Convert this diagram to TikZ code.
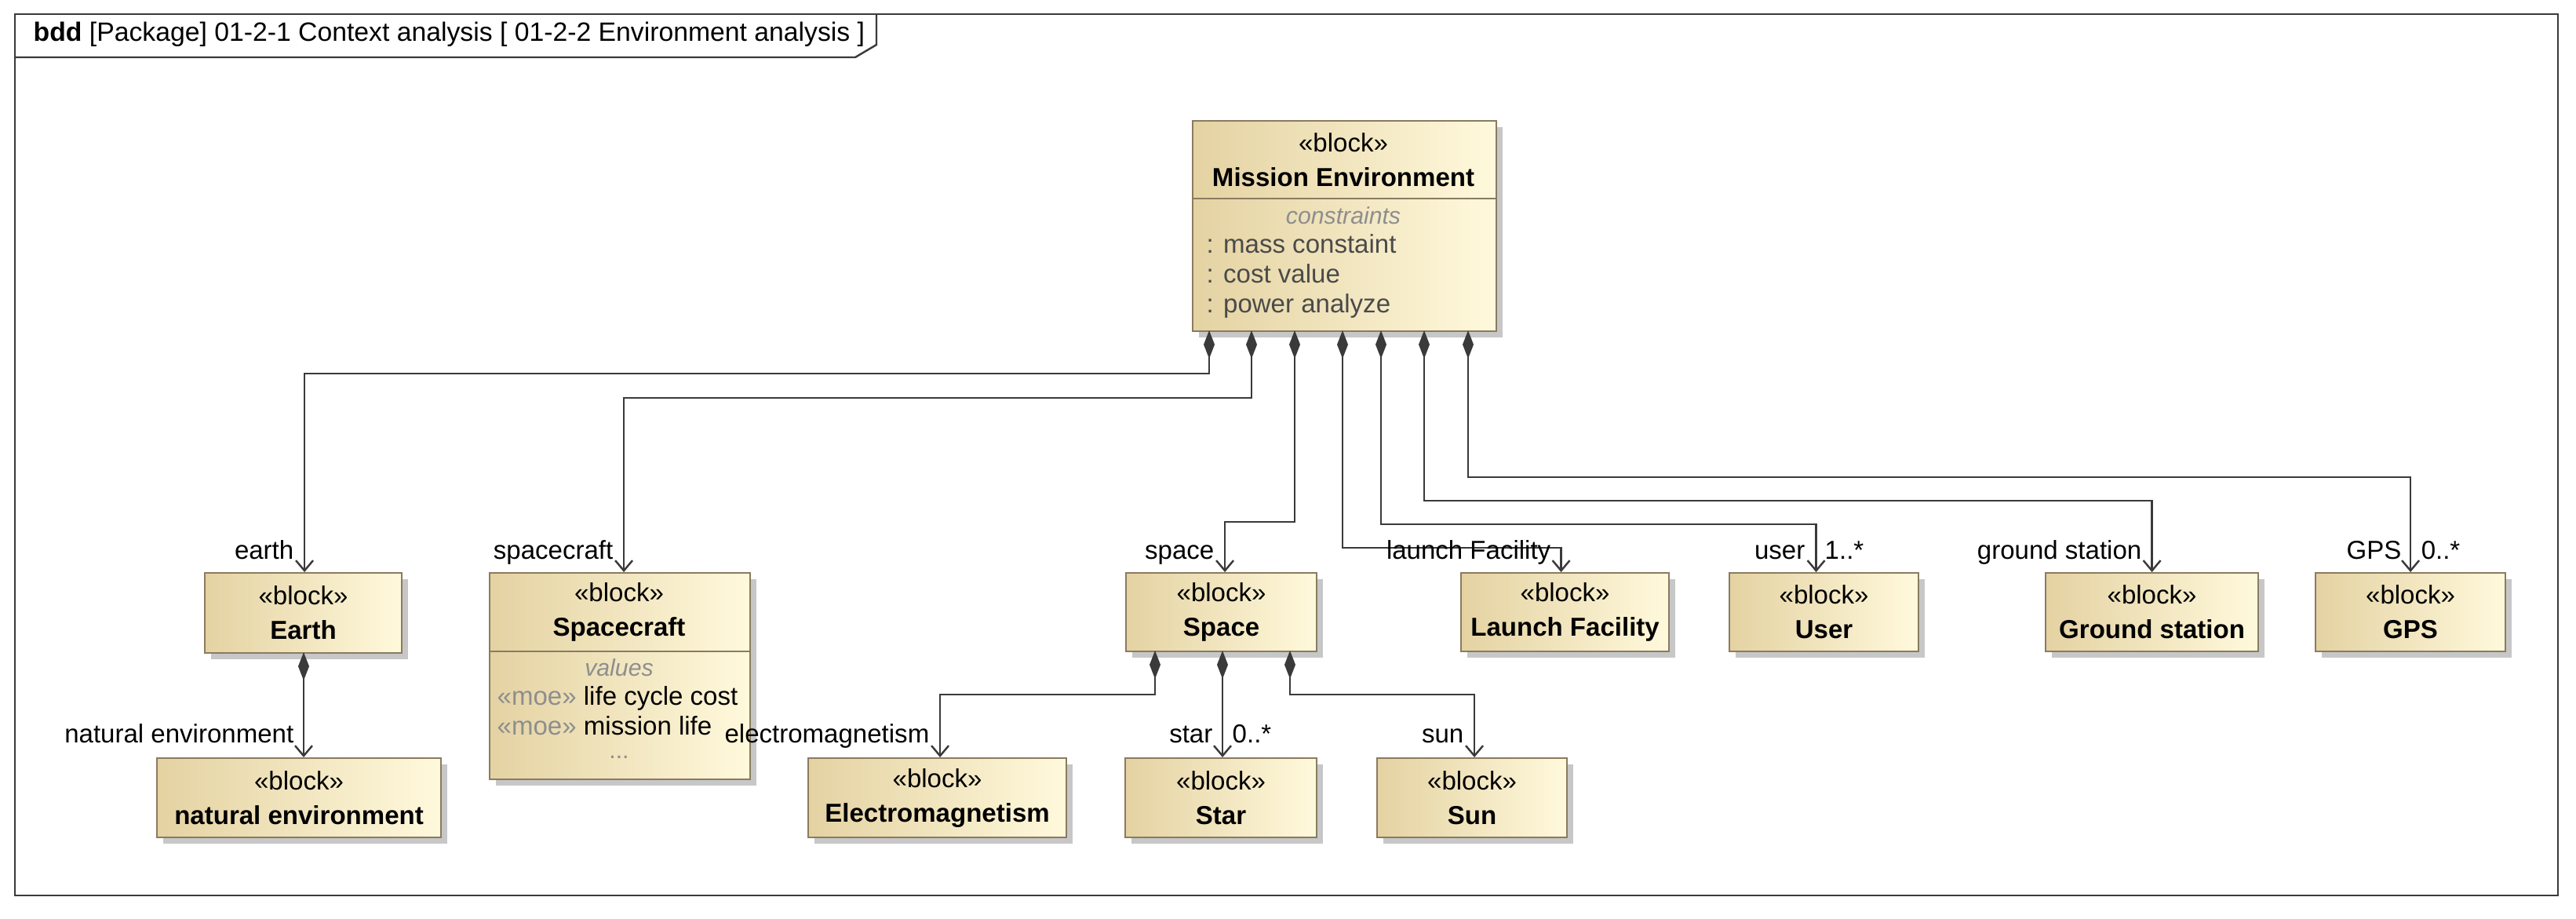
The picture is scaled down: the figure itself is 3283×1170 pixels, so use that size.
\documentclass[tikz,border=0pt]{standalone}
\usepackage{fontspec}
\setmainfont{Liberation Sans}
\usetikzlibrary{arrows.meta,shadows}
\definecolor{blkA}{HTML}{E4D2A2}
\definecolor{blkB}{HTML}{FFF9DC}
\definecolor{bord}{HTML}{8A7B60}
\definecolor{lc}{HTML}{3A3A3A}
\definecolor{gtxt}{HTML}{8E8E8E}
\definecolor{dtxt}{HTML}{4A4A4A}
\begin{document}
\begin{tikzpicture}[x=0.1mm,y=-0.1mm,
  font=\fontsize{9.4}{12.5}\selectfont,
  block/.style={draw=bord, line width=0.6pt, left color=blkA, right color=blkB,
    drop shadow={shadow xshift=0.8mm, shadow yshift=-0.8mm, fill=black!22, opacity=1},
    anchor=north west, inner sep=0pt, align=center},
  comp/.style={draw=lc, line width=0.7pt,
    {Diamond[length=3.6mm,width=1.4mm]}-{Straight Barb[length=1.3mm,width=2.2mm]}},
  role/.style={anchor=base east, inner sep=0pt},
  mult/.style={anchor=base west, inner sep=0pt},
  cmp/.style={anchor=base west, inner sep=0pt, text=dtxt, font=\fontsize{9.4}{10.8}\selectfont},
  ctitle/.style={anchor=base, inner sep=0pt, text=gtxt, font=\fontsize{8.6}{10}\selectfont\itshape}]
\useasboundingbox (0,0) rectangle (3283,1170);
% frame
\draw[draw=lc, line width=0.7pt] (19,18) rectangle (3260,1141);
\draw[draw=lc, line width=0.7pt] (19,73) -- (1090,73) -- (1117,57) -- (1117,18);
\node[anchor=base west, inner sep=0pt, font=\fontsize{9.6}{11}\selectfont] (title) at (42,52) {\textbf{bdd} [Package] 01-2-1 Context analysis [ 01-2-2 Environment analysis ]};

% Mission Environment
\node[block, minimum width=38.7mm, minimum height=26.8mm] (me) at (1519,153) {};
\draw[draw=bord, line width=0.6pt] (1519,253) -- (1906,253);
\node[anchor=center, align=center, inner sep=0pt] (metxt) at (1712,204) {«block»\\\textbf{Mission Environment}};
\node[ctitle] (mec) at (1712,285) {constraints};
\node[cmp] (me1) at (1537,322) {: mass constaint};
\node[cmp] (me2) at (1537,360) {: cost value};
\node[cmp] (me3) at (1537,398) {: power analyze};

% Spacecraft
\node[block, minimum width=33.2mm, minimum height=26.3mm] (sc) at (623,729) {};
\draw[draw=bord, line width=0.6pt] (623,830) -- (955,830);
\node[anchor=center, align=center, inner sep=0pt] (sctxt) at (789,780) {«block»\\\textbf{Spacecraft}};
\node[ctitle] (scv) at (789,861) {values};
\node[cmp, text=black] (sc1) at (633,898) {\textcolor{gtxt}{«moe»} life cycle cost};
\node[cmp, text=black] (sc2) at (633,936) {\textcolor{gtxt}{«moe»} mission life};
\node[ctitle, font=\fontsize{8.6}{10}\selectfont] (sc3) at (789,966) {...};

% simple blocks
\node[block, minimum width=25.1mm, minimum height=10.2mm] (earth) at (260,729) {«block»\\\textbf{Earth}};
\node[block, minimum width=36.2mm, minimum height=10.1mm] (nat) at (199,965) {«block»\\\textbf{natural environment}};
\node[block, minimum width=24.3mm, minimum height=10.0mm] (space) at (1434,729) {«block»\\\textbf{Space}};
\node[block, minimum width=26.5mm, minimum height=10.0mm] (launch) at (1861,729) {«block»\\\textbf{Launch Facility}};
\node[block, minimum width=24.1mm, minimum height=10.0mm] (user) at (2203,729) {«block»\\\textbf{User}};
\node[block, minimum width=27.1mm, minimum height=10.0mm] (ground) at (2606,729) {«block»\\\textbf{Ground station}};
\node[block, minimum width=24.2mm, minimum height=10.0mm] (gps) at (2950,729) {«block»\\\textbf{GPS}};
\node[block, minimum width=32.9mm, minimum height=10.1mm] (em) at (1029,965) {«block»\\\textbf{Electromagnetism}};
\node[block, minimum width=24.4mm, minimum height=10.1mm] (star) at (1433,965) {«block»\\\textbf{Star}};
\node[block, minimum width=24.2mm, minimum height=10.1mm] (sun) at (1754,965) {«block»\\\textbf{Sun}};

% connector start points
\coordinate (m1) at (1541,421);
\coordinate (m2) at (1595,421);
\coordinate (m3) at (1650,421);
\coordinate (m4) at (1711,421);
\coordinate (m5) at (1760,421);
\coordinate (m6) at (1815,421);
\coordinate (m7) at (1871,421);
\coordinate (e1) at (387,831);
\coordinate (s1) at (1472,829);
\coordinate (s2) at (1558,829);
\coordinate (s3) at (1644,829);

\draw[comp] (m1) -- ++(0,55) -| ([xshift=0.15mm]earth.north);
\draw[comp] (m2) -- ++(0,86) -| ([xshift=0.5mm]sc.north);
\draw[comp] (m3) -- ++(0,244) -| ([xshift=0.45mm]space.north);
\draw[comp] (m4) -- ++(0,277) -| ([xshift=-0.5mm]launch.north);
\draw[comp] (m5) -- ++(0,247) -| ([xshift=-1mm]user.north);
\draw[comp] (m6) -- ++(0,217) -| (ground.north);
\draw[comp] (m7) -- ++(0,187) -| (gps.north);
\draw[comp] (e1) -- (e1 |- nat.north);
\draw[comp] (s1) -- ++(0,56) -| ([xshift=0.35mm]em.north);
\draw[comp] (s2) -- (s2 |- star.north);
\draw[comp] (s3) -- ++(0,56) -| ([xshift=0.3mm]sun.north);

% role names and multiplicities
\node[role] (l1) at (375,712) {earth};
\node[role] (l2) at (782,712) {spacecraft};
\node[role] (l3) at (1548,712) {space};
\node[role] (l4) at (1977,712) {launch Facility};
\node[role] (l5) at (2301,712) {user};
\node[mult] (l5m) at (2325,712) {1..*};
\node[role] (l6) at (2730,712) {ground station};
\node[role] (l7) at (3061,712) {GPS};
\node[mult] (l7m) at (3085,712) {0..*};
\node[role] (l8) at (375,946) {natural environment};
\node[role] (l9) at (1185,946) {electromagnetism};
\node[role] (l10) at (1546,946) {star};
\node[mult] (l10m) at (1570,946) {0..*};
\node[role] (l11) at (1866,946) {sun};
\end{tikzpicture}
\end{document}
